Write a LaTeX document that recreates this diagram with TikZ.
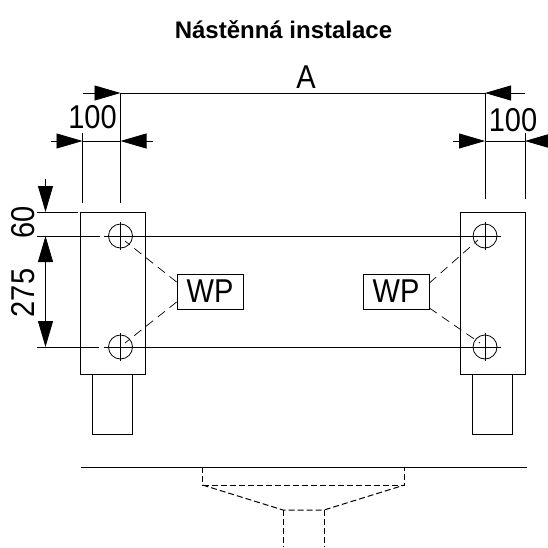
\documentclass[tikz,border=0pt]{standalone}
\usepackage{fontspec}
\setmainfont{Liberation Sans}
\newfontfamily\dimfont[FakeStretch=0.88]{Liberation Sans}
\usetikzlibrary{arrows.meta,calc,positioning}
\tikzset{
  DimLabel/.style = {inner sep=0pt, font=\dimfont\fontsize{33}{33}\selectfont},
  DimArrow/.style = {-{Triangle[length=26pt,width=15pt]}},
  WpBox/.style = {draw, minimum width=66pt, minimum height=35pt, inner sep=0pt,
    font=\dimfont\fontsize{33}{33}\selectfont},
  Hole/.style = {draw, circle, minimum size=24pt, inner sep=0pt},
  Hidden/.style = {dash pattern=on 6pt off 3pt, line width=1pt},
  Leader/.style = {dash pattern=on 9pt off 6pt, line width=0.7pt}
}
\begin{document}
\begin{tikzpicture}[x=1pt,y=-1pt,line width=0.8pt]
    \useasboundingbox (0,0) rectangle (548,547);
    \node[font=\bfseries\fontsize{24}{24}\selectfont] (title) at (283.5,30) {Nástěnná instalace};
    % brackets and their feet
    \node[draw,minimum width=65pt,minimum height=162pt,inner sep=0pt] (plateL) at (112.5,293) {};
    \node[draw,minimum width=65pt,minimum height=162pt,inner sep=0pt] (plateR) at (492.5,293) {};
    \node[draw,minimum width=40.5pt,minimum height=60pt,inner sep=0pt] (footL) at (112.25,404) {};
    \node[draw,minimum width=40pt,minimum height=60pt,inner sep=0pt] (footR) at (492,404) {};
    \node[Hole] (holeA) at (120.5,236) {};
    \node[Hole] (holeB) at (120.5,347) {};
    \node[Hole] (holeC) at (485,236) {};
    \node[Hole] (holeD) at (485,347) {};
    \foreach \h in {holeA,holeB,holeC,holeD}
      \draw ($(\h)+(0,-14)$) -- ($(\h)+(0,14)$);
    % center lines
    \coordinate (upL) at (37,236);
    \coordinate (upG) at (100,236);
    \coordinate (upH) at (104,236);
    \coordinate (upR) at (501,236);
    \coordinate (loL) at (37,347);
    \coordinate (loG) at (99,347);
    \coordinate (loH) at (104,347);
    \coordinate (loR) at (501,347);
    \draw (upL) -- (upG);
    \draw (upH) -- (upR);
    \draw (loL) -- (loG);
    \draw (loH) -- (loR);
    % WP boxes
    \node[WpBox] (wpL) at (210,291.5) {WP};
    \node[WpBox] (wpR) at (396,291.5) {WP};
    \coordinate (inA) at (125,241);
    \coordinate (inB) at (125,343);
    \coordinate (inC) at (478,240);
    \coordinate (inD) at (480,343);
    \draw[Leader] (wpL.west |- 0,282) -- (inA);
    \draw[Leader] (wpL.west |- 0,302) -- (inB);
    \draw[Leader] (wpR.east |- 0,283) -- (inC);
    \draw[Leader] (wpR.east |- 0,308) -- (inD);
    % top dimensions
    \coordinate (aL) at (83,93);
    \coordinate (aM) at (120.5,93);
    \coordinate (aN) at (485,93);
    \coordinate (aR) at (525,93);
    \draw[DimArrow] (aL) -- (aM);
    \draw[DimArrow] (aR) -- (aN);
    \draw (aM) -- (aN);
    \node[DimLabel] (labA) at (306,77) {A};
    \coordinate (bA) at (51,141);
    \coordinate (bB) at (82.5,141);
    \coordinate (bC) at (120.5,141);
    \coordinate (bD) at (153,141);
    \draw[DimArrow] (bA) -- (bB);
    \draw[DimArrow] (bD) -- (bC);
    \draw (bB) -- (bC);
    \draw (82.5,133) -- (82.5,203);
    \draw (aM) -- (120.5,203);
    \node[DimLabel] (labB) at (92.5,117) {100};
    \coordinate (cA) at (453,141);
    \coordinate (cB) at (485,141);
    \coordinate (cC) at (525,141);
    \coordinate (cD) at (555,141);
    \draw[DimArrow] (cA) -- (cB);
    \draw[DimArrow] (cD) -- (cC);
    \draw (cB) -- (cC);
    \draw (aN) -- (485,199);
    \draw (525,133) -- (525,199);
    \node[DimLabel] (labC) at (513,120) {100};
    % left dimensions
    \draw (37,212) -- (78,212);
    \coordinate (dA) at (45.5,179);
    \coordinate (dB) at (45.5,212);
    \coordinate (dC) at (45.5,236);
    \coordinate (dD) at (45.5,347);
    \draw[DimArrow] (dA) -- (dB);
    \draw[DimArrow] (dC) ++(0,30) -- (dC);
    \draw[DimArrow] (dC) ++(0,30) -- (dD);
    \node[DimLabel,rotate=90] (labD) at (23,222) {60};
    \node[DimLabel,rotate=90] (labE) at (23,293) {275};
    % wall and hidden bracket
    \coordinate (wallL) at (81,467);
    \coordinate (wallR) at (527,467);
    \draw (wallL) -- (wallR);
    \coordinate (hA) at (202.5,467);
    \coordinate (hB) at (202.5,485);
    \coordinate (hC) at (404.5,485);
    \coordinate (hD) at (404.5,467);
    \coordinate (hE) at (283,510);
    \coordinate (hF) at (324,510);
    \coordinate (hG) at (283,547);
    \coordinate (hH) at (324,547);
    \draw[Hidden] (hA) -- (hB) -- (hC) -- (hD);
    \draw[Hidden] (hB) -- (hE) -- (hF) -- (hC);
    \draw[Hidden] (hE) -- (hG);
    \draw[Hidden] (hF) -- (hH);
\end{tikzpicture}
\end{document}
